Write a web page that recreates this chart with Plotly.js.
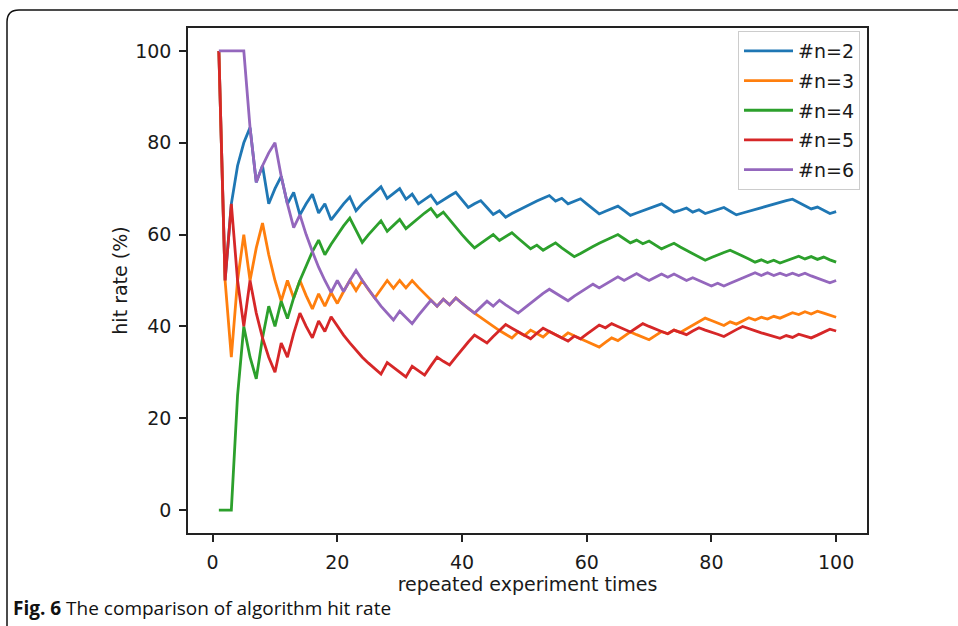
<!DOCTYPE html>
<html>
<head>
<meta charset="utf-8">
<script src="https://cdn.plot.ly/plotly-3.0.1.min.js"></script>
<style>
  html, body { margin: 0; padding: 0; background: #ffffff; }
  #chart { width: 958px; height: 626px; }
</style>
</head>
<body>
<div id="chart"></div>
<script>
// repeated experiment times (x)
const trials = [1,2,3,4,5,6,7,8,9,10,11,12,13,14,15,16,17,18,19,20,
  21,22,23,24,25,26,27,28,29,30,31,32,33,34,35,36,37,38,39,40,
  41,42,43,44,45,46,47,48,49,50,51,52,53,54,55,56,57,58,59,60,
  61,62,63,64,65,66,67,68,69,70,71,72,73,74,75,76,77,78,79,80,
  81,82,83,84,85,86,87,88,89,90,91,92,93,94,95,96,97,98,99,100];

const seriesNames = ['#n=2', '#n=3', '#n=4', '#n=5', '#n=6'];

// hit rate (%)
const hitN2 = [100,50,66.7,75,80,83.3,71.4,75,66.7,70,
  72.7,66.7,69.2,64.3,66.7,68.8,64.7,66.7,63.2,65,
  66.7,68.2,65.2,66.7,68,69.2,70.4,67.9,69,70,
  67.7,68.8,66.7,67.6,68.6,66.7,67.6,68.4,69.2,67.5,
  65.9,66.7,67.4,65.9,64.4,65.2,63.8,64.6,65.3,66,
  66.7,67.3,67.9,68.5,67.3,67.9,66.7,67.2,67.8,66.7,
  65.6,64.5,65.1,65.6,66.2,65.2,64.2,64.7,65.2,65.7,
  66.2,66.7,65.8,64.9,65.3,65.8,64.9,65.4,64.6,65,
  65.4,65.9,65.1,64.3,64.7,65.1,65.5,65.9,66.3,66.7,
  67,67.4,67.7,67,66.3,65.6,66,65.3,64.6,65];

const hitN3 = [100,50,33.3,50,60,50,57.1,62.5,55.6,50,
  45.5,50,46.2,50,46.7,43.8,47.1,44.4,47.4,45,
  47.6,50,47.8,50,48,46.2,48.1,50,48.3,50,
  48.4,50,48.5,47.1,45.7,44.4,45.9,44.7,46.2,45,
  43.9,42.9,41.9,40.9,40,39.1,38.3,37.5,38.8,38,
  39.2,38.5,37.7,38.9,38.2,37.5,38.6,37.9,37.3,36.7,
  36.1,35.5,36.5,37.5,36.9,37.9,38.8,38.2,37.7,37.1,
  38,38.9,38.4,39.2,38.7,39.5,40.3,41,41.8,41.3,
  40.7,40.2,41,40.5,41.2,41.9,41.4,42,41.6,42.2,
  41.8,42.4,43,42.6,43.2,42.7,43.3,42.9,42.4,42];

const hitN4 = [0,0,0,25,40,33.3,28.6,37.5,44.4,40,
  45.5,41.7,46.2,50,53.3,56.3,58.8,55.6,57.9,60,
  61.9,63.6,60.9,58.3,60,61.5,63,60.7,62.1,63.3,
  61.3,62.5,63.6,64.7,65.7,63.9,64.9,63.2,61.5,60,
  58.5,57.1,58.1,59.1,60,58.7,59.6,60.4,59.2,58,
  56.9,57.7,56.6,57.4,58.2,57.1,56.1,55.2,55.9,56.7,
  57.4,58.1,58.7,59.4,60,59.1,58.2,58.8,58,58.6,
  57.7,56.9,57.5,58.1,57.3,56.6,55.8,55.1,54.4,55,
  55.6,56.1,56.6,56,55.3,54.7,54,54.5,53.9,54.4,
  53.8,54.3,54.8,55.3,54.7,55.2,54.6,55.1,54.5,54];

const hitN5 = [100,50,66.7,50,40,50,42.9,37.5,33.3,30,
  36.4,33.3,38.5,42.9,40,37.5,41.2,38.9,42.1,40,
  38.1,36.4,34.8,33.3,32,30.8,29.6,32.1,31,30,
  29,31.3,30.3,29.4,31.4,33.3,32.4,31.6,33.3,35,
  36.6,38.1,37.2,36.4,37.8,39.1,40.4,39.6,38.8,38,
  37.3,38.5,39.6,38.9,38.2,37.5,36.8,37.9,37.3,38.3,
  39.3,40.3,39.7,40.6,40,39.4,38.8,39.7,40.6,40,
  39.4,38.9,38.4,39.2,38.7,38.2,39,39.7,39.2,38.8,
  38.3,37.8,38.6,39.3,40,39.5,39.1,38.6,38.2,37.8,
  37.4,38,37.6,38.3,37.9,37.5,38.1,38.8,39.4,39];

const hitN6 = [100,100,100,100,100,83.3,71.4,75,77.8,80,
  72.7,66.7,61.5,64.3,60,56.3,52.9,50,47.4,50,
  47.6,50,52.2,50,48,46.2,44.4,42.9,41.4,43.3,
  41.9,40.6,42.4,44.1,45.7,44.4,45.9,44.7,46.2,45,
  43.9,42.9,44.2,45.5,44.4,45.7,44.7,43.8,42.9,44,
  45.1,46.2,47.2,48.1,47.3,46.4,45.6,46.6,47.5,48.3,
  49.2,48.4,49.2,50,50.8,50,50.7,51.5,50.7,50,
  50.7,51.4,50.7,51.4,50.7,50,50.6,50,49.4,48.8,
  49.4,48.8,49.4,50,50.6,51.2,51.7,51.1,51.7,51.1,
  51.6,51.1,51.6,51.1,51.6,51,50.5,50,49.5,50];

const xTicks = [0, 20, 40, 60, 80, 100];
const yTicks = [0, 20, 40, 60, 80, 100];
const colors = ['#1f77b4', '#ff7f0e', '#2ca02c', '#d62728', '#9467bd'];
const allSeries = [hitN2, hitN3, hitN4, hitN5, hitN6];

const traces = allSeries.map((vals, i) => ({
  type: 'scatter',
  mode: 'lines',
  x: trials,
  y: vals,
  name: seriesNames[i],
  legendgroup: 'g' + i,
  line: { color: colors[i], width: 2.8 },
  hoverinfo: 'x+y+name'
}));

// pixel -> paper helpers for decorations outside the axes
const PL = 188, PR = 867, PT = 28, PB = 533;
const px = v => (v - PL) / (PR - PL);
const py = v => (PB - v) / (PB - PT);

const axisCommon = {
  showgrid: false,
  zeroline: false,
  showline: true,
  linecolor: '#222',
  linewidth: 1.5,
  mirror: true,
  ticks: 'outside',
  ticklen: 7,
  tickwidth: 1.5,
  tickcolor: '#222',
  tickfont: { family: 'DejaVu Sans', size: 19, color: '#1a1a1a' },
  ticklabelstandoff: 4
};

const layout = {
  width: 958,
  height: 626,
  margin: { l: PL, r: 958 - PR, t: PT, b: 626 - PB, pad: 0 },
  paper_bgcolor: '#ffffff',
  plot_bgcolor: '#ffffff',
  font: { family: 'DejaVu Sans', size: 19, color: '#1a1a1a' },
  showlegend: true,
  xaxis: Object.assign({}, axisCommon, {
    range: [-3.95, 104.95],
    tickvals: xTicks,
    ticktext: xTicks.map(String),
    title: { text: 'repeated experiment times', font: { family: 'DejaVu Sans', size: 19, color: '#1a1a1a' }, standoff: 1 }
  }),
  yaxis: Object.assign({}, axisCommon, {
    range: [-5, 105],
    tickvals: yTicks,
    ticktext: yTicks.map(String),
    title: { text: 'hit rate (%)', font: { family: 'DejaVu Sans', size: 19, color: '#1a1a1a' }, standoff: 3 }
  }),
  legend: {
    x: px(860), y: py(31),
    xanchor: 'right', yanchor: 'top',
    bgcolor: 'rgba(255,255,255,0.85)',
    bordercolor: '#cccccc',
    borderwidth: 1,
    font: { family: 'DejaVu Sans', size: 19, color: '#1a1a1a' },
    tracegroupgap: 2,
    itemwidth: 49
  },
  shapes: [{
    type: 'path',
    xref: 'paper', yref: 'paper',
    path: 'M ' + px(7) + ',' + py(640) + ' L ' + px(7) + ',' + py(22) +
          ' Q ' + px(7) + ',' + py(10) + ' ' + px(19) + ',' + py(10) +
          ' L ' + px(970) + ',' + py(10),
    line: { color: '#111', width: 1.5 },
    layer: 'above'
  }],
  annotations: [{
    xref: 'paper', yref: 'paper',
    x: px(11), y: py(608),
    xanchor: 'left', yanchor: 'middle',
    showarrow: false,
    align: 'left',
    text: '<b>Fig. 6</b> The comparison of algorithm hit rate',
    font: { family: 'Open Sans', size: 19, color: '#111' }
  }]
};

Plotly.newPlot('chart', traces, layout, { displayModeBar: false, responsive: false });
</script>
</body>
</html>
